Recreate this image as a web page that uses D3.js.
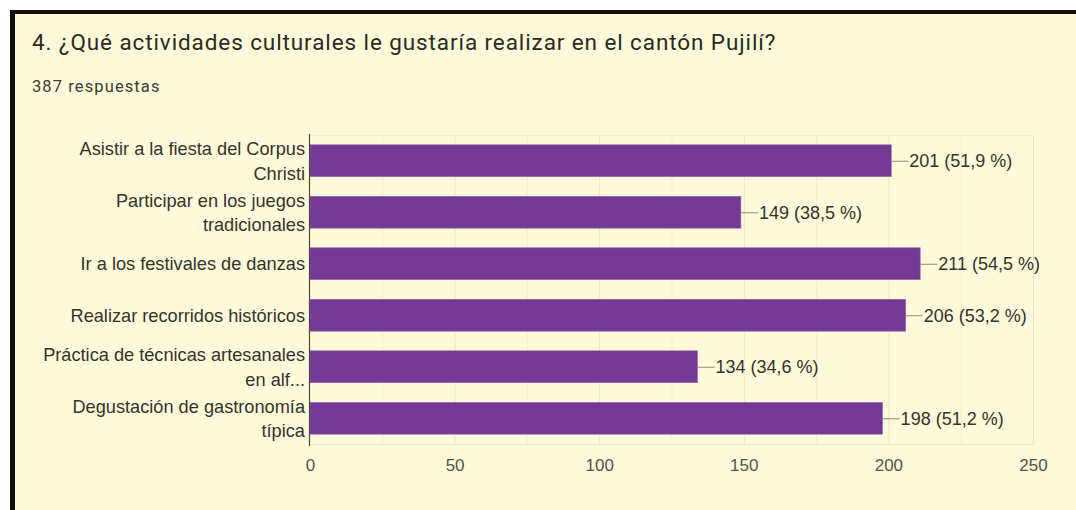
<!DOCTYPE html>
<html lang="es">
<head>
<meta charset="UTF-8">
<title>Actividades culturales</title>
<script src="https://d3js.org/d3.v7.min.js"></script>
<style>
  html, body { margin: 0; padding: 0; background: #ffffff; overflow: hidden; }
  #card {
    position: absolute; left: 10px; top: 10px; width: 1100px; height: 560px;
    background: #fffad9; border-top: 4px solid #111; border-left: 5px solid #111;
  }
  svg { position: absolute; left: 0; top: 0; }
</style>
</head>
<body>
<div id="card"></div>
<svg width="1076" height="510"></svg>
<script>
// data
let categories = [
  "Asistir a la fiesta del Corpus\nChristi",
  "Participar en los juegos\ntradicionales",
  "Ir a los festivales de danzas",
  "Realizar recorridos históricos",
  "Práctica de técnicas artesanales\nen alf...",
  "Degustación de gastronomía\ntípica"
];
let counts = [201, 149, 211, 206, 134, 198];
let percents = ["51,9", "38,5", "54,5", "53,2", "34,6", "51,2"];
let xTicks = [0, 50, 100, 150, 200, 250];
let gridTicks = [25, 50, 75, 100, 125, 150, 175, 200, 225, 250];
let title = "4. ¿Qué actividades culturales le gustaría realizar en el cantón Pujilí?";
let subtitle = "387 respuestas";

let svg = d3.select('svg');
let plot = {left: 310, right: 1033, top: 135, bottom: 444};

svg.append("text")
  .attr("x", 32).attr("y", 50)
  .style("font-family", "Roboto, 'Open Sans', sans-serif")
  .style("font-size", "22.5px")
  .style("letter-spacing", "0.9px")
  .style("fill", "#2b2a26")
  .text(title);

svg.append("text")
  .attr("x", 32).attr("y", 91.5)
  .style("font-family", "Roboto, sans-serif")
  .style("font-size", "16.5px")
  .style("letter-spacing", "1.1px")
  .style("fill", "#3c3b35")
  .text(subtitle);

let xscale = d3.scaleLinear().domain([0, 250]).range([plot.left, plot.right]);
let yscale = d3.scaleBand().domain(d3.range(categories.length))
  .range([plot.top, plot.bottom]).paddingInner(0.38).paddingOuter(0.19);

// grid
svg.append("g").selectAll("line").data(gridTicks).enter().append("line")
  .attr("x1", d => xscale(d) + 0.5).attr("x2", d => xscale(d) + 0.5)
  .attr("y1", plot.top).attr("y2", plot.bottom)
  .attr("stroke", d => d % 50 === 0 ? "#f7e3c3" : "#fbedcf");
svg.append("line")
  .attr("x1", plot.left).attr("x2", plot.right + 1)
  .attr("y1", plot.top + 0.5).attr("y2", plot.top + 0.5).attr("stroke", "#fbedcf");
svg.append("line")
  .attr("x1", plot.left).attr("x2", plot.right + 1)
  .attr("y1", plot.bottom + 0.5).attr("y2", plot.bottom + 0.5).attr("stroke", "#f7e3c3");

// bars
svg.append("g").selectAll("rect").data(counts).enter().append("rect")
  .attr("x", xscale(0))
  .attr("y", (d, i) => yscale(i))
  .attr("width", d => xscale(d) - xscale(0))
  .attr("height", yscale.bandwidth())
  .attr("fill", "#743995")
  .attr("stroke", "#9a6fb0").attr("stroke-width", 0.6);

// value labels with leader lines
let lab = svg.append("g").selectAll("g").data(counts).enter().append("g")
  .attr("transform", (d, i) => "translate(" + xscale(d) + "," + (yscale(i) + yscale.bandwidth() / 2) + ")");
lab.append("line").attr("x1", 0).attr("x2", 17).attr("y1", 0.5).attr("y2", 0.5)
  .attr("stroke", "#8f8a78");
lab.append("text").attr("x", 18).attr("dy", "0.36em")
  .style("font-family", "'Liberation Sans', Arial, sans-serif")
  .style("font-size", "18px").style("fill", "#34332f")
  .text((d, i) => d + " (" + percents[i] + " %)");

// category labels
let cat = svg.append("g").selectAll("text").data(categories).enter().append("text")
  .attr("text-anchor", "end")
  .style("font-family", "'Liberation Sans', Arial, sans-serif")
  .style("font-size", "18.2px").style("fill", "#34332f");
cat.each(function (d, i) {
  let lines = d.split("\n");
  let cy = yscale(i) + yscale.bandwidth() / 2;
  let lh = 24.5;
  let y0 = cy - (lines.length - 1) * lh / 2;
  d3.select(this).selectAll("tspan").data(lines).enter().append("tspan")
    .attr("x", 305).attr("y", (l, j) => y0 + j * lh).attr("dy", "0.36em")
    .text(l => l);
});

// axis
let xAxis = svg.append("g").attr("transform", "translate(0," + plot.bottom + ")")
  .call(d3.axisBottom(xscale).tickValues(xTicks).tickSize(0).tickPadding(15));
xAxis.select(".domain").remove();
xAxis.selectAll("text")
  .style("font-family", "'Liberation Sans', Arial, sans-serif")
  .style("font-size", "17px").style("fill", "#55534a");

svg.append("line")
  .attr("x1", plot.left - 0.5).attr("x2", plot.left - 0.5)
  .attr("y1", plot.top - 1).attr("y2", plot.bottom + 2)
  .attr("stroke", "#4a4843").attr("stroke-width", 1.2);
</script>
</body>
</html>
